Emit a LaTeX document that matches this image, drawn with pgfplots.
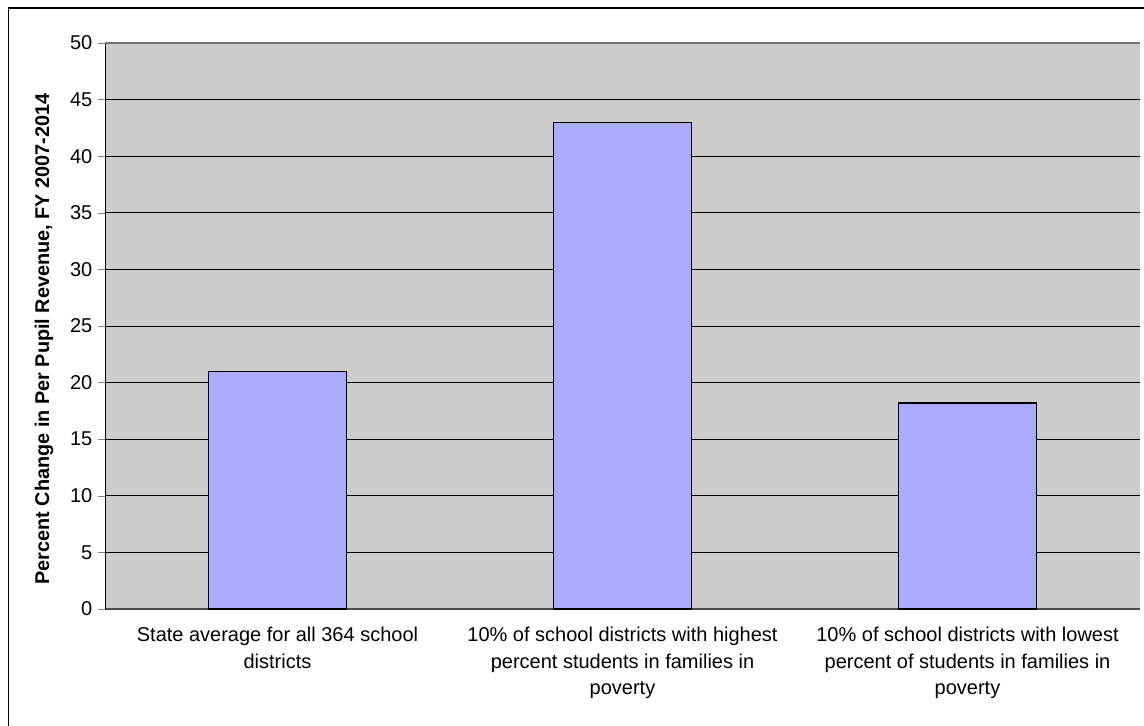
\documentclass[border=0pt]{standalone}
\usepackage{pgfplots}
\pgfplotsset{compat=1.18}
\usepackage{fontspec}
\setmainfont{Liberation Sans}
\definecolor{plotgray}{HTML}{CCCCCC}
\definecolor{barblue}{HTML}{AAAAFF}
\begin{document}
\begin{tikzpicture}
\useasboundingbox (0,0) rectangle (858pt,543.75pt);
\draw[line width=1.1pt] (6.4pt,-5pt) -- (6.4pt,537.6pt) -- (865pt,537.6pt);
\begin{axis}[
  at={(78.75pt,87pt)}, anchor=south west,
  scale only axis, width=776.25pt, height=424.5pt,
  xmin=-0.5, xmax=2.5, ymin=0, ymax=50,
  ytick={0,5,...,50},
  xtick={0,1,2},
  xticklabels={{State average for all 364 school\\districts},{10\% of school districts with highest\\percent students in families in\\poverty},{10\% of school districts with lowest\\percent of students in families in\\poverty}},
  x tick label style={align=center, font=\fontsize{15pt}{20pt}\selectfont, yshift=-10pt},
  major x tick style={draw=none},
  extra x ticks={-0.5,0.5,1.5,2.5},
  extra x tick labels={},
  extra x tick style={major tick length=6pt, tick align=outside, major tick style={draw=black, line width=0.6pt}, grid=none},
  y tick label style={font=\fontsize{15pt}{18pt}\selectfont, xshift=-1pt},
  /pgf/number format/assume math mode=true,
  ytick align=outside, major tick length=5pt,
  ymajorgrids, grid style={black, line width=0.6pt},
  axis background/.style={fill=plotgray},
  axis x line*=bottom, axis y line*=left,
  x axis line style={draw=black!70, line width=1pt, -},
  y axis line style={draw=black, line width=0.7pt, -},
  ylabel={Percent Change in Per Pupil Revenue, FY 2007-2014},
  ylabel style={font=\bfseries\fontsize{14.9pt}{17pt}\selectfont, at={(axis description cs:-0.059,0.477)}, anchor=center},
  clip=false,
]
\draw[black!55, line width=0.8pt] (axis cs:-0.5,50) -- (axis cs:2.5,50);
\addplot[ybar, bar width=103.5pt, fill=barblue, draw=black, line width=0.9pt] coordinates {(0,21) (1,43) (2,18.2)};
\end{axis}
\end{tikzpicture}
\end{document}
